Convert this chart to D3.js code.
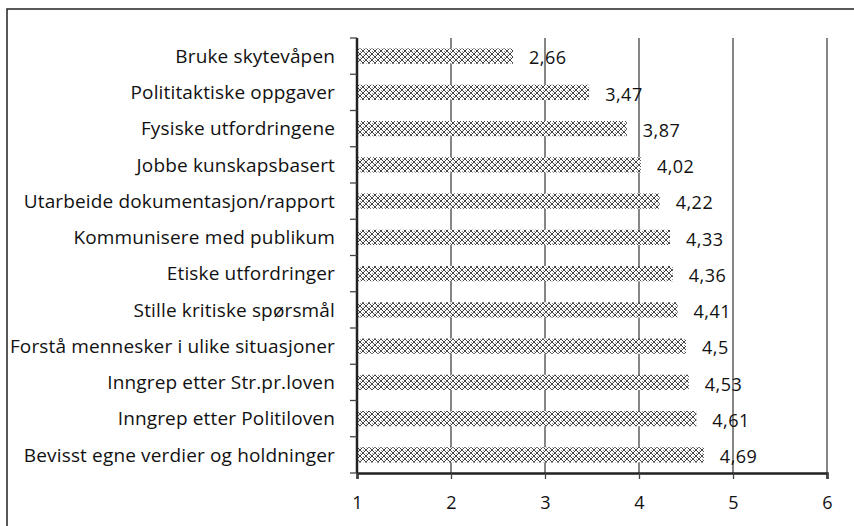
<!DOCTYPE html>
<html><head><meta charset="utf-8">
<script src="https://cdn.jsdelivr.net/npm/d3@7"></script>
<style>html,body{margin:0;padding:0;background:#fff;}svg{display:block;}</style>
</head><body>
<svg id="c" width="854" height="526"></svg>
<script>
const categories = ["Bruke skytevåpen","Polititaktiske oppgaver","Fysiske utfordringene","Jobbe kunskapsbasert","Utarbeide dokumentasjon/rapport","Kommunisere med publikum","Etiske utfordringer","Stille kritiske spørsmål","Forstå mennesker i ulike situasjoner","Inngrep etter Str.pr.loven","Inngrep etter Politiloven","Bevisst egne verdier og holdninger"];
const values = [2.66,3.47,3.87,4.02,4.22,4.33,4.36,4.41,4.5,4.53,4.61,4.69];
const labels = ["2,66","3,47","3,87","4,02","4,22","4,33","4,36","4,41","4,5","4,53","4,61","4,69"];
const xTicks = [1,2,3,4,5,6];

const svg = d3.select("#c");
const font = "'Open Sans', sans-serif";
const fs = 19;
svg.append("rect").attr("x",7).attr("y",9).attr("width",900).attr("height",600)
  .attr("fill","none").attr("stroke","#222").attr("stroke-width",1.5);

const defs = svg.append("defs");
const pat = defs.append("pattern").attr("id","hatch").attr("patternUnits","userSpaceOnUse")
  .attr("width",6).attr("height",6);
pat.append("rect").attr("width",6).attr("height",6).attr("fill","#fff");
const px = [[0,0],[1,1],[2,2],[3,3],[4,4],[5,5],[5,0],[4,1],[3,2],[2,3],[1,4],[0,5]];
px.forEach(([a,b])=>pat.append("rect").attr("x",a).attr("y",b).attr("width",1).attr("height",1).attr("fill","#444"));
pat.append("rect").attr("x",0).attr("y",3).attr("width",1).attr("height",1).attr("fill","#999");
pat.append("rect").attr("x",3).attr("y",0).attr("width",1).attr("height",1).attr("fill","#999");

const L = 357, R = 827, T = 38, B = 473;
const x = d3.scaleLinear().domain([1,6]).range([L,R]);
const y = d3.scaleBand().domain(categories).range([T,B]).paddingInner(0.58).paddingOuter(0.29);

// gridlines
svg.append("g").selectAll("line").data(xTicks.slice(1)).join("line")
  .attr("x1",d=>x(d)).attr("x2",d=>x(d)).attr("y1",T).attr("y2",B)
  .attr("stroke","#444").attr("stroke-width",1.3);

// bars
svg.append("g").selectAll("rect").data(values).join("rect")
  .attr("x",x(1)).attr("y",(d,i)=>y(categories[i]))
  .attr("width",d=>x(d)-x(1)).attr("height",y.bandwidth())
  .attr("fill","url(#hatch)");

// data labels
svg.append("g").selectAll("text").data(values).join("text")
  .attr("x",d=>x(d)+16).attr("y",(d,i)=>y(categories[i])+y.bandwidth()/2+2)
  .attr("dy","0.35em").attr("font-family",font).attr("font-size",fs-1).attr("letter-spacing",0.5).attr("fill","#111")
  .text((d,i)=>labels[i]);

// x axis
const xa = svg.append("g").attr("transform",`translate(0,${B})`)
  .call(d3.axisBottom(x).tickValues(xTicks).tickSize(6).tickPadding(17).tickFormat(d3.format("d")));
xa.select(".domain").attr("stroke","#222").attr("stroke-width",2.5);
xa.selectAll(".tick line").attr("stroke","#444").attr("stroke-width",1.3);
xa.selectAll("text").attr("font-family",font).attr("font-size",fs-1).attr("fill","#111");

// y axis (category boundaries ticks)
const step = (B-T)/categories.length;
svg.append("line").attr("x1",L).attr("x2",L).attr("y1",T).attr("y2",B).attr("stroke","#222").attr("stroke-width",2.5);
svg.append("g").selectAll("line").data(d3.range(categories.length+1)).join("line")
  .attr("x1",L-7).attr("x2",L).attr("y1",i=>T+i*step).attr("y2",i=>T+i*step)
  .attr("stroke","#444").attr("stroke-width",1.3);
svg.append("g").selectAll("text").data(categories).join("text")
  .attr("x",335).attr("y",d=>y(d)+y.bandwidth()/2).attr("dy","0.35em")
  .attr("text-anchor","end").attr("font-family",font).attr("font-size",fs).attr("letter-spacing",0.15).attr("fill","#111")
  .text(d=>d);
</script>
</body></html>
